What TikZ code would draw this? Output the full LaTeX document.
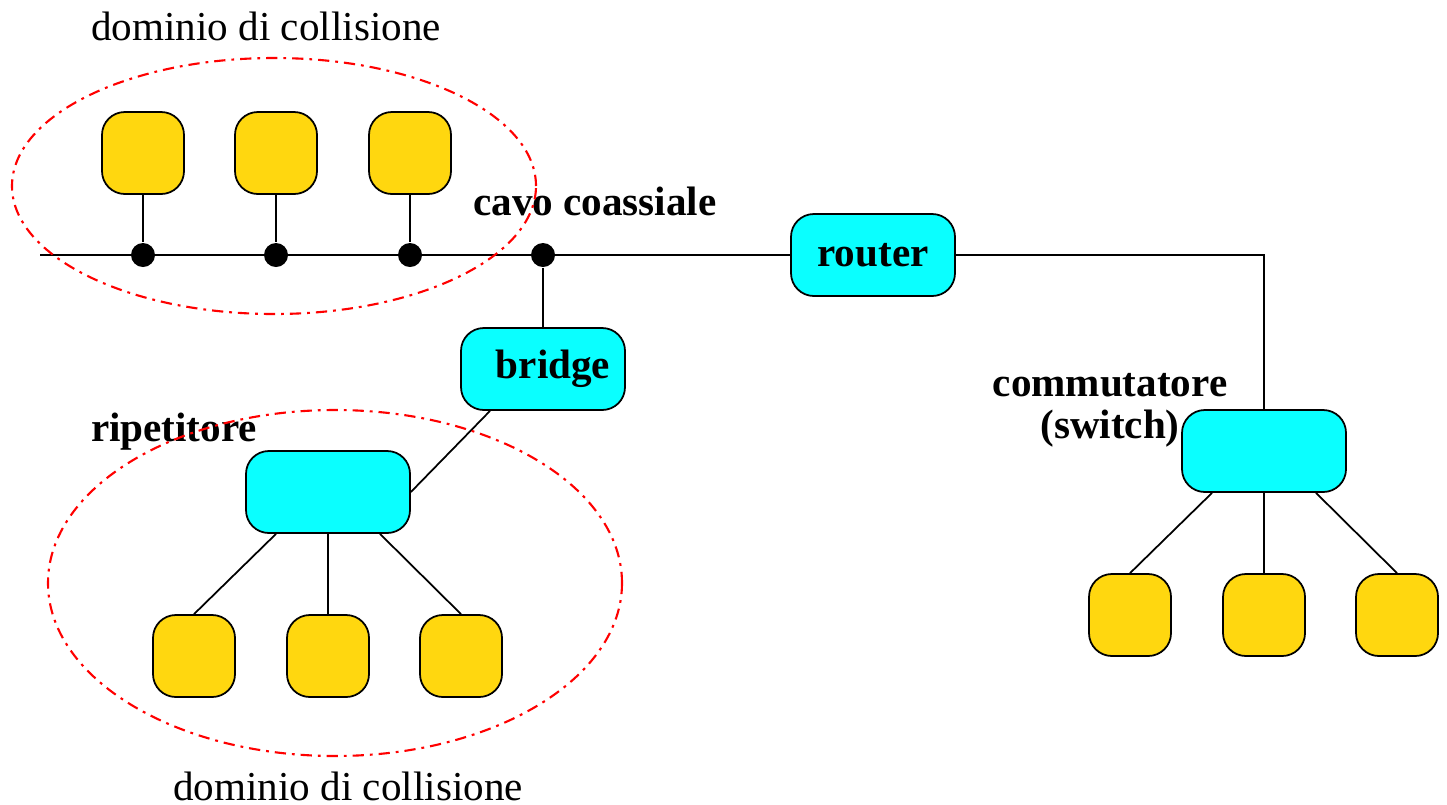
\documentclass[tikz,border=0pt]{standalone}
\usepackage{fontspec}
\setmainfont{Liberation Serif}
\usetikzlibrary{calc}

\definecolor{hostyellow}{RGB}{255,215,15}
\definecolor{boxcyan}{RGB}{10,255,255}

\begin{document}
\begin{tikzpicture}[
  line width=0.5pt,
  font=\fontsize{11.7}{12}\selectfont,
  host/.style={draw, fill=hostyellow, rounded corners=6.5pt,
    minimum width=0.82cm, minimum height=0.82cm, inner sep=0pt},
  netbox/.style={draw, fill=boxcyan, rounded corners=6.5pt,
    minimum width=1.64cm, minimum height=0.82cm, inner sep=0pt,
    font=\fontsize{11.7}{12}\selectfont\bfseries},
  tap/.style={circle, fill=black, minimum size=0.24cm, inner sep=0pt},
  colldomain/.style={red, line width=0.6pt,
    dash pattern=on 3.2pt off 1.7pt on 0.8pt off 1.7pt},
  tag/.style={font=\fontsize{11.7}{12}\selectfont\bfseries}
]

\useasboundingbox (0,0) rectangle (14.47,8.04);

% Bus y level
\def\ybus{5.49}

% Coax segment: hosts hanging on the cable
\foreach \x [count=\i] in {1.43,2.76,4.10} {
  \node[host] (top\i) at (\x,6.51) {};
  \node[tap] (tap\i) at (\x,\ybus) {};
  \draw (top\i.south) -- (tap\i);
}
\node[tap] (tap4) at (5.43,\ybus) {};
\coordinate (busstart) at (0.40,\ybus);

% Router and switch
\node[netbox] (router) at (8.73,\ybus) {router};
\draw (busstart) -- (router.west);
\node[netbox] (switch) at (12.64,3.53) {};
\draw (router.east) -| (switch.north);

\foreach \x [count=\i] in {11.30,12.64,13.97} {
  \node[host] (sw\i) at (\x,1.89) {};
}
\draw ([xshift=-0.52cm]switch.south) -- (sw1.north);
\draw (switch.south) -- (sw2.north);
\draw ([xshift=0.52cm]switch.south) -- (sw3.north);

% Bridge and repeater
\node[netbox] (bridge) at (5.43,4.35) {\hspace{0.2cm}bridge};
\draw (tap4) -- (bridge.north);
\node[netbox] (repeater) at (3.28,3.12) {};
\draw (repeater.east) -- ([xshift=-0.53cm]bridge.south);

\foreach \x [count=\i] in {1.94,3.28,4.61} {
  \node[host] (rp\i) at (\x,1.48) {};
}
\draw ([xshift=-0.52cm]repeater.south) -- (rp1.north);
\draw (repeater.south) -- (rp2.north);
\draw ([xshift=0.52cm]repeater.south) -- (rp3.north);

% Labels
\node[anchor=base] (domtop) at (2.66,7.64) {dominio di collisione};
\node[anchor=base] (dombot) at (3.48,0.04) {dominio di collisione};
\node[tag, anchor=base] (coax) at (5.95,5.89) {cavo coassiale};
\node[tag, anchor=base] (replabel) at (1.74,3.63) {ripetitore};
\node[tag, align=center] (swlabel) at (11.10,3.94) {commutatore\\(switch)};

% Collision domains
\draw[colldomain] (2.74,6.18) ellipse [x radius=2.62, y radius=1.28];
\draw[colldomain] (3.35,2.21) ellipse [x radius=2.87, y radius=1.73];

\end{tikzpicture}
\end{document}
